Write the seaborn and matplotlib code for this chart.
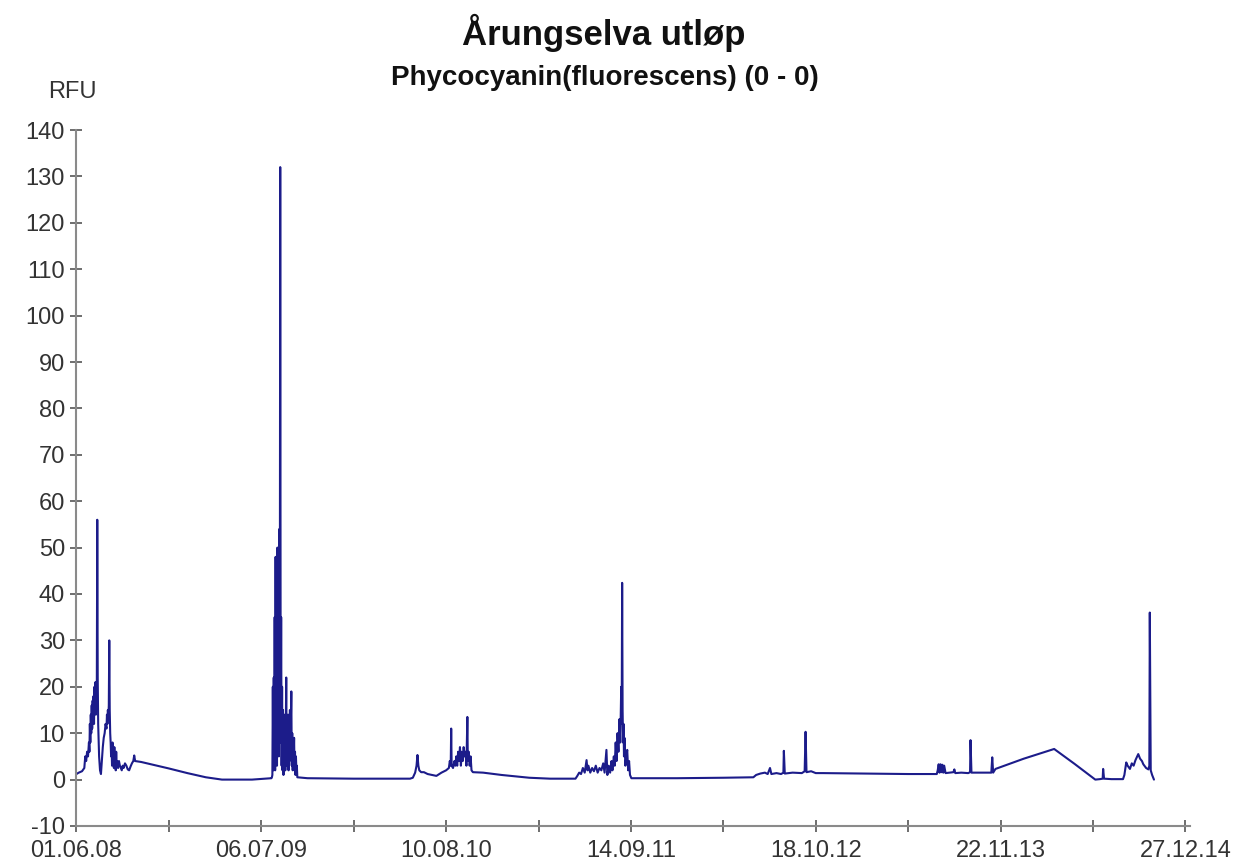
import numpy as np
import pandas as pd
import matplotlib
matplotlib.use("Agg")
import matplotlib.pyplot as plt
import seaborn as sns

# dager etter 01.06.08 og målt RFU
start = pd.Timestamp("2008-06-01")

days_08 = [0, 5, 12, 17, 19, 21, 23, 25, 27,
           28, 29, 30, 31, 32, 33, 34, 35, 36, 37, 38, 39, 40, 41, 42, 43, 44, 45, 46, 47,
           49, 51, 53, 55, 57, 59, 61, 63, 65,
           66, 67, 68, 69, 70, 71, 72, 73, 74, 75, 76, 77, 78, 79, 80, 81, 82, 83, 84, 85, 86, 87, 88,
           90, 92, 94, 96, 98, 100, 102,
           105, 108, 111, 114, 117, 120, 123, 125, 127,
           140, 170, 200, 240, 280, 315, 380]
rfu_08 = [1.2, 1.5, 1.8, 2.5, 5, 4, 6, 5, 8,
          6, 12, 8, 14, 10, 16, 11, 17, 13, 18, 12, 20, 15, 21, 14, 20, 18, 56, 22, 12,
          5, 2, 1.2, 4, 7, 9, 10, 12, 11,
          14, 12, 15, 13, 16, 30, 15, 10, 8, 5, 7, 3, 8, 4, 6, 2.5, 7, 3, 5, 2, 6, 3, 4,
          2.5, 4, 3, 2.5, 2, 3, 2.5,
          3.5, 3, 2.2, 2, 2.8, 3.5, 4, 5.2, 4,
          3.8, 3.1, 2.4, 1.4, 0.5, 0, 0]

days_09 = list(range(422, 479)) + [500, 600, 700]
rfu_09 = [0.3, 0.5, 1, 20, 2, 22, 4, 35, 2, 48,
          6, 40, 3, 50, 8, 45, 5, 54, 10, 132,
          8, 35, 3, 20, 2, 15, 1, 12, 4, 14,
          2, 10, 22, 3, 12, 5, 14, 2, 11, 4,
          15, 6, 12, 19, 3, 10, 2, 8, 4, 9,
          2, 6, 1, 5, 2, 3, 0.5,
          0.3, 0.2, 0.2]

days_10 = [722, 728, 733, 736, 738, 740, 742, 746, 752, 760,
           770, 779, 790, 800, 806, 808, 810, 811, 812, 815,
           818, 820, 822, 824, 826, 828, 830, 832, 834, 836,
           838, 840, 842, 844, 846, 847, 849, 851, 853, 855,
           858, 880, 920, 980, 1025]
rfu_10 = [0.2, 0.4, 1.5, 3, 5.3, 3, 2, 1.6, 1.6, 1.2,
          1, 0.8, 1.5, 2, 2.5, 4, 3, 11, 3, 2.5,
          4, 3, 5, 3, 6, 4, 7, 3, 6, 4,
          7, 5, 6, 3, 13.5, 4, 6, 3, 5, 2,
          1.6, 1.5, 1, 0.4, 0.2]

days_11 = [1080, 1084, 1088, 1092, 1096, 1100, 1104, 1106, 1108, 1112,
           1116, 1120, 1124, 1128, 1132, 1136, 1140, 1143, 1147, 1149,
           1152, 1155, 1158, 1160, 1163, 1165, 1167, 1169, 1171, 1173,
           1175, 1177, 1179, 1180, 1181, 1182, 1183, 1184, 1185, 1186,
           1188, 1190, 1192, 1194, 1196, 1198, 1201, 1300, 1400]
rfu_11 = [0.2, 0.8, 1.5, 1.2, 2.5, 1.5, 4.2, 2, 3, 1.5,
          2.5, 1.8, 3, 1.5, 2.5, 2, 3.5, 1.5, 6.4, 1,
          3, 1.5, 4, 2, 5, 3, 8, 4, 10, 6,
          13, 8, 20, 12, 42.4, 15, 8, 12, 5, 9,
          3, 5, 6.4, 2, 4, 1, 0.3, 0.3, 0.4]

days_12 = [1465, 1471, 1480, 1490, 1496, 1501, 1504, 1515, 1525, 1530,
           1531, 1533, 1550, 1570, 1576, 1578, 1580, 1590, 1600, 1616,
           1700, 1800, 1862, 1864, 1866, 1868, 1870, 1872, 1874, 1876,
           1878, 1881, 1890, 1898, 1900, 1902, 1915, 1930, 1934, 1935,
           1937, 1960, 1980, 1982, 1984, 1989, 2050, 2116, 2160, 2205,
           2215, 2221, 2222, 2224, 2240, 2265, 2268, 2272, 2275, 2280,
           2284, 2288, 2292, 2298, 2302, 2306, 2309, 2315, 2320, 2322,
           2323, 2325, 2328, 2332]
rfu_12 = [0.5, 1.0, 1.3, 1.5, 1.2, 2.5, 1.2, 1.4, 1.2, 1.5,
          6.2, 1.3, 1.5, 1.4, 1.8, 10.3, 1.6, 1.8, 1.4, 1.4,
          1.3, 1.2, 1.2, 2, 3.3, 1.5, 3.3, 1.6, 3.2, 1.5,
          3, 1.4, 1.5, 1.6, 2.2, 1.4, 1.5, 1.4, 1.6, 8.5,
          1.5, 1.5, 1.5, 4.8, 1.5, 2.3, 4.5, 6.6, 3.4, 0,
          0.1, 0.2, 2.3, 0.2, 0.1, 0.1, 1, 3.7, 3, 2.3,
          3.5, 3, 4.2, 5.5, 4.5, 4, 3.3, 2.5, 2.2, 3,
          36, 2, 1, 0]

tick_days = [0, 400, 800, 1200, 1600, 2000, 2400]
minor_days = [200, 600, 1000, 1400, 1800, 2200]
y_ticks = list(range(-10, 141, 10))

days = days_08 + days_09 + days_10 + days_11 + days_12
rfu = rfu_08 + rfu_09 + rfu_10 + rfu_11 + rfu_12
df = pd.DataFrame({"dato": start + pd.to_timedelta(days, unit="D"), "rfu": rfu})

sns.set_style("ticks")
plt.rcParams["font.family"] = ["Liberation Sans", "DejaVu Sans"]
plt.rcParams["axes.unicode_minus"] = False

fig = plt.figure(figsize=(12.52, 8.68), dpi=100)
ax = fig.add_axes([76 / 1252, 42 / 868, 1114 / 1252, 696 / 868])
sns.lineplot(data=df, x="dato", y="rfu", color="#1c1c8a", linewidth=1.5,
             estimator=None, ax=ax)

major = [start + pd.Timedelta(days=d) for d in tick_days]
ax.set_xticks(major)
ax.set_xticklabels([d.strftime("%d.%m.%y") for d in major])
ax.set_xticks([start + pd.Timedelta(days=d) for d in minor_days], minor=True)
ax.set_xlim(start - pd.Timedelta(days=1), start + pd.Timedelta(days=2410))
ax.set_ylim(-10, 140)
ax.set_yticks(y_ticks)
ax.set_xlabel("")
ax.set_ylabel("")

for s in ["top", "right"]:
    ax.spines[s].set_visible(False)
for s in ["left", "bottom"]:
    ax.spines[s].set_color("#8a8a8a")
    ax.spines[s].set_linewidth(1.5)
ax.tick_params(axis="both", which="both", direction="inout", length=8, width=1.2,
               color="#555555", labelsize=17, labelcolor="#333333")
ax.tick_params(axis="x", pad=6)
ax.tick_params(axis="y", pad=4)

fig.text(604 / 1252, 1 - 33 / 868, "Årungselva utløp", ha="center", va="center",
         fontsize=25, fontweight="bold", color="#111111")
fig.text(605 / 1252, 1 - 78 / 868, "Phycocyanin(fluorescens) (0 - 0)", ha="center",
         va="center", fontsize=20, fontweight="bold", color="#111111")
fig.text(72 / 1252, 1 - 92 / 868, "RFU", ha="center", va="center", fontsize=17,
         color="#333333")

fig.savefig("out.png", dpi=100)
